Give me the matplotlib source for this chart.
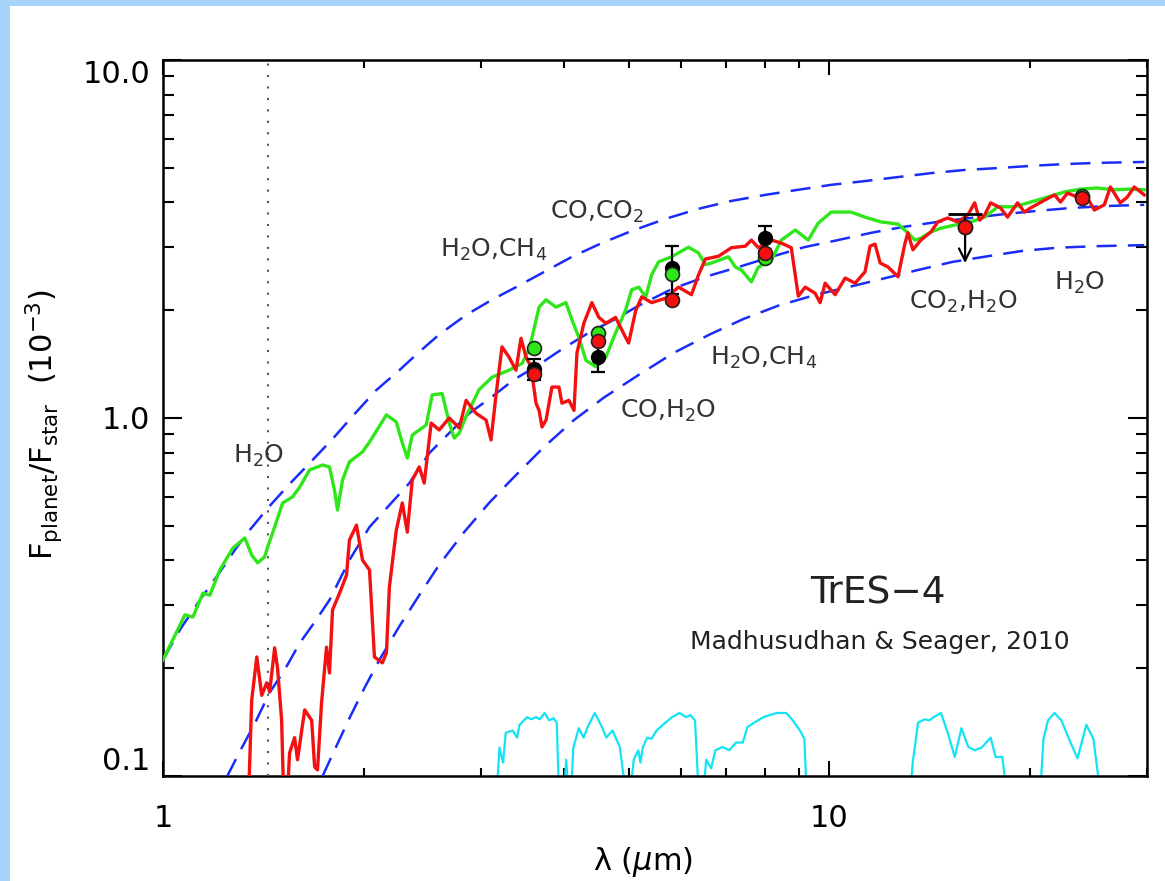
import matplotlib
matplotlib.use("Agg")
import matplotlib.pyplot as plt
from matplotlib.patches import Rectangle
from matplotlib.ticker import FixedLocator, LogLocator, FuncFormatter, NullFormatter

# ---- data (wavelength in micron, Fp/Fs in 1e-3) ----
green_wl = [1.000, 1.079, 1.109, 1.148, 1.176, 1.217, 1.273, 1.327, 1.359, 1.387,
            1.421, 1.436, 1.471, 1.512, 1.565, 1.604, 1.660, 1.736, 1.778, 1.809,
            1.828, 1.860, 1.905, 1.993, 2.042, 2.165, 2.240, 2.287, 2.327, 2.367,
            2.484, 2.536, 2.625, 2.690, 2.737, 2.785, 2.851, 2.982, 3.119, 3.307,
            3.459, 3.543, 3.581, 3.669, 3.759, 3.890, 4.026, 4.111, 4.211, 4.314,
            4.466, 4.623, 4.780, 4.948, 5.053, 5.179, 5.306, 5.414, 5.546, 5.800,
            6.150, 6.367, 6.521, 6.658, 7.061, 7.234, 7.386, 7.644, 7.831, 8.190,
            8.478, 8.897, 9.303, 9.627, 10.07, 10.79, 11.32, 11.96, 12.69, 13.13,
            13.45, 13.73, 14.22, 14.72, 15.44, 16.32, 17.12, 17.91, 18.98, 20.06,
            21.28, 22.56, 23.84, 25.27, 26.80, 28.32, 29.72]
green_fr = [0.211, 0.282, 0.278, 0.324, 0.320, 0.376, 0.433, 0.462, 0.414, 0.394,
            0.409, 0.436, 0.496, 0.579, 0.602, 0.641, 0.716, 0.739, 0.730, 0.629,
            0.553, 0.671, 0.754, 0.804, 0.857, 1.02, 0.975, 0.852, 0.773, 0.896,
            0.956, 1.16, 1.17, 0.968, 0.879, 0.908, 1.01, 1.20, 1.30, 1.36,
            1.42, 1.55, 1.68, 2.04, 2.14, 2.04, 2.10, 1.88, 1.68, 1.45,
            1.39, 1.48, 1.73, 2.00, 2.28, 2.32, 2.18, 2.51, 2.73, 2.82,
            3.00, 2.89, 2.68, 2.71, 2.82, 2.64, 2.59, 2.40, 2.64, 2.76,
            3.14, 3.35, 3.14, 3.50, 3.76, 3.76, 3.64, 3.53, 3.48, 3.29,
            3.14, 3.18, 3.31, 3.39, 3.46, 3.53, 3.64, 3.89, 3.89, 4.01,
            4.14, 4.28, 4.36, 4.39, 4.34, 4.36, 4.34]

red_wl = [1.345, 1.359, 1.383, 1.407, 1.431, 1.446, 1.471, 1.486, 1.507, 1.517,
          1.538, 1.549, 1.576, 1.592, 1.632, 1.672, 1.689, 1.706, 1.730, 1.760,
          1.778, 1.797, 1.841, 1.886, 1.905, 1.952, 1.993, 2.042, 2.077, 2.135,
          2.165, 2.187, 2.240, 2.287, 2.327, 2.367, 2.425, 2.467, 2.527, 2.598,
          2.690, 2.785, 2.851, 2.952, 3.055, 3.108, 3.162, 3.228, 3.307, 3.388,
          3.447, 3.507, 3.568, 3.631, 3.669, 3.707, 3.759, 3.836, 3.930, 3.971,
          4.068, 4.140, 4.183, 4.284, 4.404, 4.512, 4.623, 4.780, 4.948, 5.001,
          5.126, 5.233, 5.414, 5.681, 5.942, 6.214, 6.367, 6.521, 6.821, 7.135,
          7.487, 7.644, 7.831, 8.190, 8.478, 8.774, 8.990, 9.208, 9.529, 9.694,
          9.863, 10.21, 10.57, 10.94, 11.32, 11.52, 11.72, 11.93, 12.26, 12.69,
          13.00, 13.13, 13.36, 13.73, 14.22, 14.56, 15.07, 15.60, 16.15, 16.54,
          16.83, 17.12, 17.48, 18.09, 18.53, 19.18, 19.65, 20.06, 21.06, 21.80,
          22.25, 22.80, 23.60, 24.42, 25.01, 25.89, 26.44, 27.36, 28.03, 28.71,
          29.72]
red_fr = [0.09, 0.163, 0.215, 0.168, 0.182, 0.172, 0.228, 0.200, 0.143, 0.09,
          0.09, 0.116, 0.128, 0.111, 0.153, 0.143, 0.106, 0.104, 0.160, 0.229,
          0.194, 0.291, 0.324, 0.364, 0.456, 0.502, 0.401, 0.376, 0.215, 0.207,
          0.221, 0.337, 0.486, 0.579, 0.480, 0.671, 0.730, 0.658, 0.968, 0.926,
          1.00, 0.938, 1.12, 1.03, 0.987, 0.868, 1.16, 1.58, 1.48, 1.36,
          1.67, 1.48, 1.39, 1.10, 1.05, 0.944, 0.987, 1.22, 1.22, 1.10,
          1.12, 1.05, 1.52, 1.84, 2.10, 1.91, 1.84, 1.91, 1.68, 1.62,
          2.00, 2.18, 2.10, 2.16, 2.32, 2.21, 2.51, 2.78, 2.83, 2.99,
          3.02, 3.14, 2.99, 3.14, 3.08, 2.99, 2.19, 2.32, 2.23, 2.10,
          2.38, 2.21, 2.46, 2.38, 2.56, 3.02, 3.06, 2.71, 2.64, 2.48,
          3.08, 3.29, 2.95, 3.14, 3.31, 3.53, 3.62, 3.53, 3.69, 3.99,
          3.57, 3.69, 3.99, 3.86, 3.64, 3.99, 3.76, 3.86, 4.06, 4.20,
          4.01, 4.25, 4.14, 4.12, 3.81, 3.94, 4.42, 3.99, 4.14, 4.42,
          4.20]

# blackbody reference curves (dashed)
bb_hi_wl = [1.000, 1.060, 1.136, 1.217, 1.282, 1.349, 1.446, 1.549, 1.677, 1.797,
            1.939, 2.091, 2.264, 2.425, 2.598, 2.851, 3.119, 3.388, 3.707, 4.111,
            4.557, 5.053, 5.681, 6.367, 7.135, 8.022, 8.990, 10.07, 11.32, 12.69,
            14.22, 15.98, 17.91, 20.06, 22.56, 25.27, 29.72]
bb_hi_fr = [0.211, 0.256, 0.310, 0.371, 0.428, 0.486, 0.568, 0.654, 0.763, 0.874,
            1.026, 1.197, 1.36, 1.53, 1.71, 1.94, 2.14, 2.32, 2.54, 2.82,
            3.08, 3.33, 3.60, 3.84, 4.04, 4.20, 4.34, 4.48, 4.59, 4.71,
            4.83, 4.93, 4.99, 5.06, 5.12, 5.16, 5.19]
bb_mid_wl = [1.247, 1.304, 1.373, 1.446, 1.523, 1.604, 1.689, 1.778, 1.905, 2.042,
             2.187, 2.344, 2.511, 2.690, 2.881, 3.087, 3.365, 3.669, 3.999, 4.357,
             4.750, 5.179, 5.800, 6.521, 7.310, 8.190, 9.176, 10.31, 11.56, 12.95,
             14.56, 16.32, 18.28, 20.56, 23.03, 26.16, 29.72]
bb_mid_fr = [0.0994, 0.117, 0.140, 0.171, 0.198, 0.235, 0.269, 0.310, 0.401, 0.496,
             0.571, 0.658, 0.798, 0.908, 1.03, 1.13, 1.28, 1.41, 1.57, 1.73,
             1.88, 2.06, 2.29, 2.48, 2.64, 2.82, 3.00, 3.14, 3.29, 3.42,
             3.53, 3.62, 3.71, 3.79, 3.86, 3.91, 3.94]
bb_lo_wl = [1.736, 1.809, 1.905, 2.006, 2.113, 2.264, 2.425, 2.598, 2.832, 3.087,
            3.365, 3.732, 4.140, 4.590, 5.179, 5.843, 6.613, 7.435, 8.390, 9.561,
            10.68, 12.05, 13.59, 15.33, 17.30, 19.52, 22.02, 25.27, 29.72]
bb_lo_fr = [0.0999, 0.118, 0.145, 0.176, 0.211, 0.262, 0.320, 0.389, 0.480, 0.579,
            0.684, 0.830, 0.987, 1.14, 1.32, 1.52, 1.71, 1.89, 2.06, 2.21,
            2.32, 2.45, 2.59, 2.73, 2.83, 2.93, 2.99, 3.02, 3.04]

# filter transmission curves (cyan), scaled onto the plot
filters = [
    ([3.17, 3.20, 3.24, 3.27, 3.35, 3.40, 3.43, 3.52, 3.57, 3.63, 3.68, 3.74, 3.80, 3.86, 3.90, 3.93],
     [0.09, 0.120, 0.109, 0.132, 0.134, 0.128, 0.139, 0.146, 0.144, 0.146, 0.144, 0.150, 0.143, 0.145, 0.141, 0.09]),
    ([4.00, 4.03, 4.06, 4.10, 4.13, 4.21, 4.28, 4.34, 4.45, 4.56, 4.63, 4.73, 4.85, 4.95],
     [0.09, 0.111, 0.09, 0.09, 0.120, 0.136, 0.128, 0.137, 0.150, 0.137, 0.128, 0.134, 0.1205, 0.09]),
    ([5.03, 5.09, 5.17, 5.21, 5.25, 5.33, 5.41, 5.51, 5.63, 5.81, 5.96, 6.10, 6.19, 6.29, 6.37],
     [0.09, 0.111, 0.118, 0.109, 0.120, 0.128, 0.127, 0.134, 0.139, 0.146, 0.150, 0.146, 0.148, 0.143, 0.09]),
    ([6.47, 6.54, 6.65, 6.75, 6.92, 7.08, 7.25, 7.42, 7.54, 7.72, 7.97, 8.15, 8.35, 8.62, 8.82, 9.04, 9.18, 9.25],
     [0.09, 0.111, 0.105, 0.118, 0.1205, 0.118, 0.124, 0.124, 0.137, 0.141, 0.146, 0.148, 0.150, 0.150, 0.143, 0.134, 0.127, 0.09]),
    ([13.25, 13.35, 13.60, 13.92, 14.15, 14.36, 14.72, 15.07, 15.44, 15.80, 16.18, 16.54, 16.94, 17.48, 17.78, 18.20, 18.47],
     [0.09, 0.109, 0.141, 0.144, 0.143, 0.146, 0.150, 0.132, 0.113, 0.136, 0.1205, 0.118, 0.120, 0.128, 0.113, 0.113, 0.09]),
    ([20.75, 20.98, 21.31, 21.80, 22.32, 22.87, 23.60, 24.33, 24.93, 25.53],
     [0.09, 0.127, 0.143, 0.150, 0.143, 0.128, 0.112, 0.139, 0.127, 0.09]),
]

# observations
obs_wl = [3.6, 4.5, 5.8, 8.0]
obs_fr = [1.37, 1.48, 2.62, 3.18]
obs_err = [0.09, 0.14, 0.40, 0.26]
ul_wl = 16.0
ul_fr = 3.71
ul_tip = 2.66

# band-averaged model points
band_wl = [3.6, 4.5, 5.8, 8.0, 16.0, 24.0]
green_band = [1.57, 1.73, 2.52, 2.80, 3.42, 4.17]
red_band = [1.33, 1.64, 2.14, 2.89, 3.42, 4.12]

water_line = 1.44

# ---- figure ----
plt.rcParams['font.family'] = ['DejaVu Sans']
plt.rcParams['mathtext.fontset'] = 'dejavusans'

fig = plt.figure(figsize=(11.65, 8.81), dpi=100)
fig.patch.set_facecolor('#a8d4fc')
fig.patches.append(Rectangle((10 / 1165, 0), 1, 1 - 6 / 881, transform=fig.transFigure,
                             facecolor='white', edgecolor='none', zorder=-10))

ax = fig.add_axes([0.1399, 0.1192, 0.8446, 0.8127])
ax.set_xscale('log')
ax.set_yscale('log')
ax.set_xlim(1, 30)
ax.set_ylim(0.1, 10)

for wl, tr in filters:
    ax.plot(wl, tr, color='#12e4f4', lw=1.6, zorder=2)

dash = (0, (8, 4.5))
for wl, fr in [(bb_hi_wl, bb_hi_fr), (bb_mid_wl, bb_mid_fr), (bb_lo_wl, bb_lo_fr)]:
    ax.plot(wl, fr, color='#1a2cf8', lw=1.8, linestyle=dash, zorder=3)

ax.axvline(water_line, color='#555555', lw=1.5, linestyle=(0, (1, 4.5)), zorder=3)

ax.plot(green_wl, green_fr, color='#2fe61a', lw=2.4, zorder=4)
ax.plot(red_wl, red_fr, color='#f21010', lw=2.4, zorder=5)

# data and model points
ax.errorbar(obs_wl, obs_fr, yerr=obs_err, fmt='o', color='black', ms=10,
            elinewidth=1.6, capsize=5, capthick=1.6, zorder=6)
ax.plot([ul_wl], [ul_fr], marker='_', ms=24, mew=2, color='black', zorder=6)
ax.annotate('', xy=(ul_wl, ul_tip), xytext=(ul_wl, ul_fr),
            arrowprops=dict(arrowstyle='->', lw=1.6, color='black', mutation_scale=22),
            zorder=6)
ax.plot(band_wl, green_band, 'o', ms=10, mfc='#2fe61a', mec='#1a2a1a', mew=1.2, zorder=7)
ax.plot(band_wl, red_band, 'o', ms=10, mfc='#f21010', mec='#2a1a1a', mew=1.2, zorder=8)

# molecule labels
tc = '#333333'
fs = 18
ax.text(4.48, 3.76, r'CO,CO$_2$', color=tc, fontsize=fs, ha='center', va='center')
ax.text(3.13, 2.95, r'H$_2$O,CH$_4$', color=tc, fontsize=fs, ha='center', va='center')
ax.text(7.97, 1.47, r'H$_2$O,CH$_4$', color=tc, fontsize=fs, ha='center', va='center')
ax.text(5.74, 1.05, r'CO,H$_2$O', color=tc, fontsize=fs, ha='center', va='center')
ax.text(15.87, 2.11, r'CO$_2$,H$_2$O', color=tc, fontsize=fs, ha='center', va='center')
ax.text(23.76, 2.38, r'H$_2$O', color=tc, fontsize=fs, ha='center', va='center')
ax.text(1.392, 0.783, r'H$_2$O', color=tc, fontsize=fs, ha='center', va='center')

ax.text(11.84, 0.324, 'TrES\u22124', color='#222222', fontsize=27, ha='center', va='center')
ax.text(11.93, 0.237, 'Madhusudhan & Seager, 2010', color='#222222', fontsize=18,
        ha='center', va='center')

# axes styling
for s in ax.spines.values():
    s.set_linewidth(1.8)
ax.xaxis.set_major_locator(FixedLocator([1, 10]))
ax.xaxis.set_major_formatter(FuncFormatter(lambda v, p: '%g' % v))
ax.xaxis.set_minor_locator(LogLocator(base=10, subs=range(2, 10)))
ax.xaxis.set_minor_formatter(NullFormatter())
ax.yaxis.set_major_locator(FixedLocator([0.1, 1, 10]))
ax.yaxis.set_major_formatter(FuncFormatter(lambda v, p: '%.1f' % v))
ax.yaxis.set_minor_locator(LogLocator(base=10, subs=range(2, 10)))
ax.yaxis.set_minor_formatter(NullFormatter())

ax.tick_params(which='both', direction='in', top=True, right=True, width=1.5,
               labelsize=22, colors='black')
ax.tick_params(axis='y', which='major', length=14, pad=9)
ax.tick_params(axis='y', which='minor', length=8)
ax.tick_params(axis='x', which='major', length=11, pad=20)
ax.tick_params(axis='x', which='minor', length=5.5)

# IDL-style: top label sits below its tick, bottom label above
yt = ax.yaxis.get_major_ticks(3)
yt[0].label1.set_va('bottom')
yt[2].label1.set_va('top')

ax.set_xlabel('\u03bb ($\\mu$m)', fontsize=22)
ax.xaxis.set_label_coords(0.488, -0.097)
ax.set_ylabel(r'F$_{\mathrm{planet}}$/F$_{\mathrm{star}}$  (10$^{-3}$)', fontsize=22)
ax.yaxis.set_label_coords(-0.10, 0.49)

fig.savefig('out.png', dpi=100, facecolor=fig.get_facecolor())
